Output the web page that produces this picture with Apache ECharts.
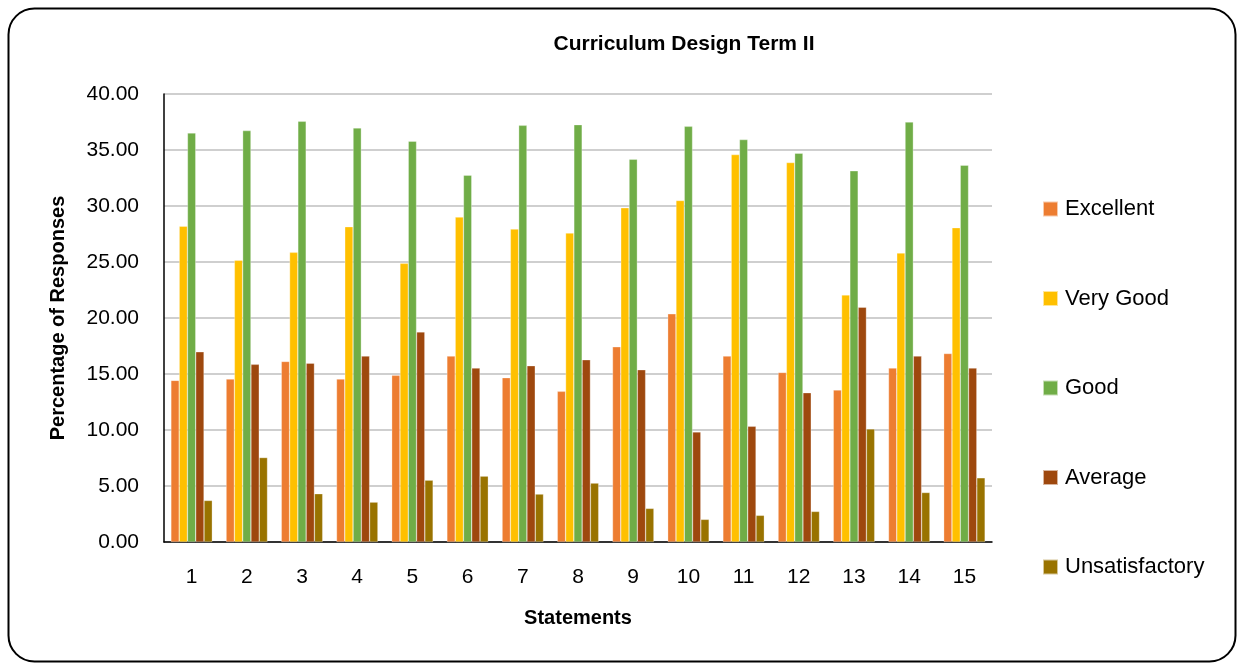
<!DOCTYPE html>
<html>
<head>
<meta charset="utf-8">
<script src="https://cdn.jsdelivr.net/npm/echarts@6/dist/echarts.min.js"></script>
<style>
html,body{margin:0;padding:0;background:#fff;}
#c{width:1240px;height:663px;}
</style>
</head>
<body>
<div id="c"></div>
<script>
var categories = ['1','2','3','4','5','6','7','8','9','10','11','12','13','14','15'];
var seriesNames = ['Excellent','Very Good','Good','Average','Unsatisfactory'];
var excellent = [14.43,14.55,16.12,14.55,14.88,16.60,14.67,13.45,17.43,20.37,16.60,15.14,13.57,15.53,16.83];
var veryGood = [28.20,25.15,25.86,28.15,24.88,29.01,27.94,27.58,29.84,30.49,34.59,33.88,22.06,25.80,28.06];
var good = [36.52,36.73,37.56,36.97,35.78,32.75,37.20,37.26,34.17,37.11,35.93,34.71,33.14,37.50,33.64];
var average = [16.98,15.86,15.97,16.60,18.76,15.53,15.74,16.27,15.38,9.83,10.33,13.33,20.96,16.60,15.53];
var unsatisfactory = [3.71,7.54,4.31,3.56,5.52,5.88,4.28,5.26,3.00,2.02,2.38,2.73,10.10,4.42,5.73];
var colors = ['#ED7D31','#FFC000','#70AD47','#9E480E','#997300'];
var values = [excellent, veryGood, good, average, unsatisfactory];

var FONT = '"Liberation Sans", Arial, sans-serif';
var chart = echarts.init(document.getElementById('c'), null, {renderer:'canvas'});
var series = seriesNames.map(function(n,i){
  return {
    name:n, type:'bar', data:values[i],
    barGap:'0%', barCategoryGap:'25%',
    itemStyle:{color:colors[i], borderColor:'rgba(255,255,255,0.6)', borderWidth:0.5}
  };
});
chart.setOption({
  animation:false,
  color:colors,
  graphic:[{
    type:'rect', left:6, top:6, silent:true,
    shape:{width:1227, height:653, r:26},
    style:{fill:'none', stroke:'#000', lineWidth:2}
  }],
  title:{
    text:'Curriculum Design Term II',
    left:679, top:29, textAlign:'center',
    textStyle:{fontFamily:FONT, fontWeight:'bold', fontSize:21, color:'#000'}
  },
  legend:{
    orient:'vertical', left:1037, top:193,
    itemWidth:15, itemHeight:15, itemGap:67.5,
    icon:'rect',
    textStyle:{fontFamily:FONT, fontSize:22, color:'#000', lineHeight:22, padding:[0,0,0,2]},
    data:seriesNames
  },
  grid:{left:164, right:248, top:94, bottom:121, containLabel:false},
  xAxis:{
    type:'category', data:categories,
    name:'Statements', nameLocation:'middle', nameGap:66,
    nameTextStyle:{fontFamily:FONT, fontWeight:'bold', fontSize:20, color:'#000'},
    axisLine:{lineStyle:{color:'#000', width:1.5}},
    axisTick:{show:false},
    axisLabel:{fontFamily:FONT, fontSize:21, color:'#000', margin:25}
  },
  yAxis:{
    type:'value', min:0, max:40, interval:5,
    name:'Percentage of Responses', nameLocation:'middle', nameGap:96,
    nameTextStyle:{fontFamily:FONT, fontWeight:'bold', fontSize:20, color:'#000'},
    axisLine:{show:true, lineStyle:{color:'#000', width:1.5}},
    axisTick:{show:false},
    splitLine:{lineStyle:{color:'#BFBFBF', width:1.5}},
    axisLabel:{fontFamily:FONT, fontSize:21, color:'#000', margin:25,
      formatter:function(v){return v.toFixed(2);}}
  },
  series:series
});
</script>
</body>
</html>
